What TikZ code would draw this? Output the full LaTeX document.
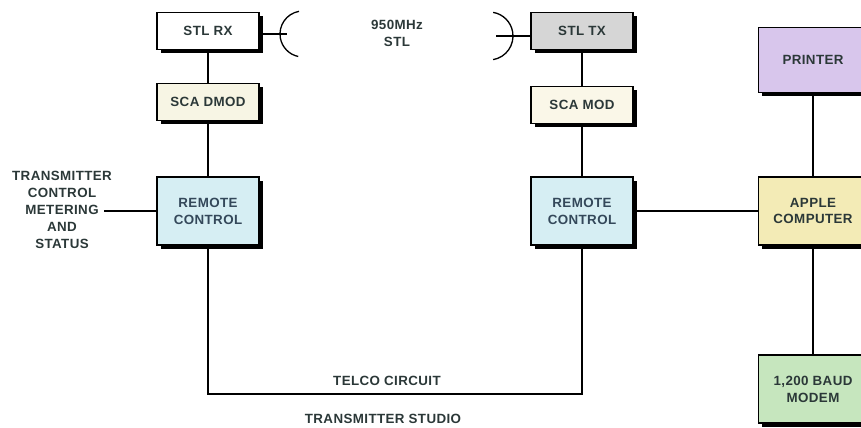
\documentclass[tikz,border=0pt]{standalone}
\usepackage{fontspec}
\setmainfont{Liberation Sans}[LetterSpace=3]
\usepackage{xcolor}
\usepackage{tikz}
\usetikzlibrary{shadows}

\definecolor{inkgray}{HTML}{2B3838}
\definecolor{inkblue}{HTML}{34485A}
\definecolor{rxfill}{HTML}{FFFFFF}
\definecolor{dmodfill}{HTML}{F7F5E4}
\definecolor{remfill}{HTML}{D6EEF3}
\definecolor{txfill}{HTML}{D6D6D6}
\definecolor{modfill}{HTML}{FAF7E8}
\definecolor{prnfill}{HTML}{D8C6EC}
\definecolor{cpufill}{HTML}{F3EBB6}
\definecolor{mdmfill}{HTML}{C6E6BE}

\begin{document}
\begin{tikzpicture}[
  x=0.02cm, y=0.02cm,
  font=\fontsize{7.6}{9.6}\selectfont\bfseries, text=inkgray,
  unit/.style={
    draw=black, line width=0.9pt,
    minimum width=58pt, minimum height=21pt,
    align=center, fill=white, inner sep=1pt,
    drop shadow={shadow xshift=2.2pt, shadow yshift=-2.2pt, fill=black, opacity=1}
  },
  tall/.style={unit, minimum height=39pt},
  edge/.style={unit, minimum width=62pt},
  wire/.style={line width=0.75pt},
]
\useasboundingbox (0,0) rectangle (861,-428);

%% Left column -- transmitter site
\node[unit, fill=rxfill]   (stlrx)   at (208,-31)  {STL RX};
\node[unit, fill=dmodfill] (scadmod) at (208,-102) {SCA DMOD};
\node[tall, fill=remfill, text=inkblue] (remtx) at (208,-211) {REMOTE\\CONTROL};
\node[align=center] (metering) at (62,-210)
  {TRANSMITTER\\CONTROL\\METERING\\AND\\STATUS};
\coordinate (meterend) at (104,-211);

%% Middle column -- studio
\node[unit, fill=txfill]   (stltx)  at (582,-31)  {STL TX};
\node[unit, fill=modfill]  (scamod) at (582,-105) {SCA MOD};
\node[tall, fill=remfill, text=inkblue] (remst) at (582,-211) {REMOTE\\CONTROL};

%% Right column -- computer (runs off the right edge)
\node[edge, fill=prnfill, minimum height=37pt] (printer) at (813,-60) {PRINTER};
\node[edge, tall, minimum width=62pt, fill=cpufill] (apple) at (813,-211) {APPLE\\COMPUTER};
\node[edge, tall, minimum width=62pt, fill=mdmfill] (modem) at (813,-389) {1,200 BAUD\\MODEM};

%% Labels
\node[align=center] (stllink) at (397,-33) {950MHz\\STL};
\node (telco)  at (387,-381) {TELCO CIRCUIT};
\node (studio) at (383,-419) {TRANSMITTER STUDIO};

%% Antennas
\coordinate (dishrx) at (303,-34);
\coordinate (dishtx) at (489,-36);
\draw[wire] (stlrx.east |- dishrx) -- ++(27,0);
\draw[wire] (dishrx) ++(100:23) arc (100:258:23);
\draw[wire] (stltx.west |- dishtx) -- ++(-34,0);
\draw[wire] (dishtx) ++(-80:24) arc (-80:80:24);

%% Connections
\draw[wire] (stlrx) -- (scadmod);
\draw[wire] (scadmod) -- (remtx);
\draw[wire] (meterend) -- (remtx);
\draw[wire] (remtx.south) -- ++(0,-148) -| (remst.south);
\draw[wire] (stltx) -- (scamod);
\draw[wire] (scamod) -- (remst);
\draw[wire] (remst) -- (apple);
\draw[wire] (printer) -- (apple);
\draw[wire] (apple) -- (modem);
\end{tikzpicture}
\end{document}
